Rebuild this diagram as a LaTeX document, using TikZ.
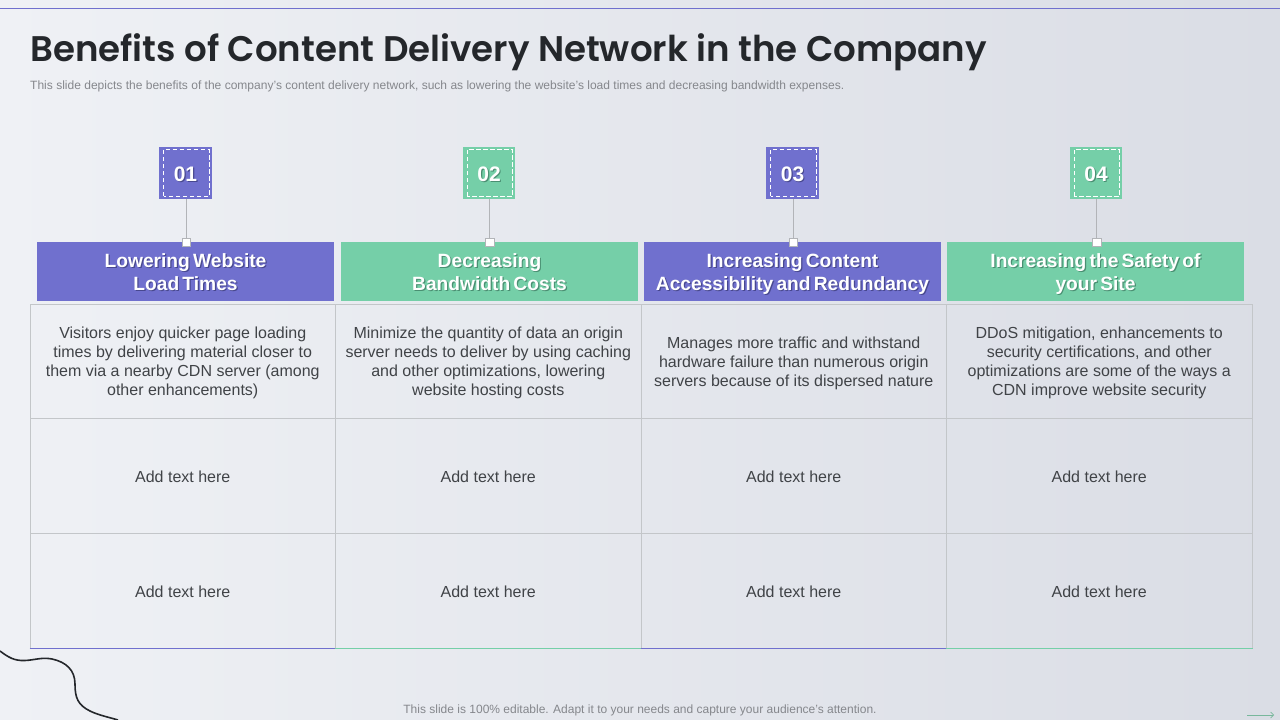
\documentclass[tikz,border=0pt]{standalone}
\usepackage{fontspec}
\usetikzlibrary{arrows.meta}
\setmainfont{Liberation Sans}[BoldFeatures={WordSpace=0.6}]
\newfontfamily\titlefont{Poppins SemiBold}
\definecolor{bgL}{HTML}{EFF1F5}
\definecolor{bgR}{HTML}{DADDE5}
\definecolor{pur}{HTML}{7070CE}
\definecolor{grn}{HTML}{75CFA8}
\definecolor{purS}{HTML}{48488F}
\definecolor{grnS}{HTML}{4A8F72}
\definecolor{gridc}{HTML}{C3C6C9}
\definecolor{inkc}{HTML}{404347}
\definecolor{titlec}{HTML}{24272B}
\definecolor{subc}{HTML}{85878C}
\definecolor{stemc}{HTML}{B2B4B8}
\newcommand{\shtxt}[2]{\leavevmode\rlap{\raisebox{-1.3pt}{\kern1.2pt\textcolor{#1}{#2}}}#2}
\newcommand{\Tc}{\rule{0pt}{17.4pt}}
\newcommand{\Bc}{\rule[-6pt]{0pt}{0pt}}
\newcommand{\Th}{\rule{0pt}{20pt}}
\newcommand{\Bh}{\rule[-6pt]{0pt}{0pt}}
\tikzset{
  x=1pt,y=-1pt,
  pads/.style 2 args={execute at begin node={\rule{0pt}{#1pt}},execute at end node={\rule[-#2pt]{0pt}{0pt}}},
  numbox/.style={minimum size=52.5pt,inner sep=0pt,fill=#1,font=\bfseries\fontsize{21}{24}\selectfont,text=white,pads={18}{2}},
  inner/.style={draw=white,dashed,dash pattern=on 4.5pt off 2.5pt,line width=.7pt},
  head/.style={minimum width=297pt,minimum height=59pt,inner sep=0pt,fill=#1,font=\bfseries\fontsize{19.2}{23}\selectfont,text=white,align=center},
  cell/.style={minimum width=305.5pt,minimum height=114.8pt,inner sep=0pt,draw=gridc,line width=1pt,font=\fontsize{16}{19}\selectfont,text=inkc,align=center},
  addcell/.style={cell,pads={19}{6}},
  stem/.style={draw=stemc,line width=.9pt},
  tick/.style={minimum size=8.5pt,inner sep=0pt,fill=white,draw=stemc,line width=.4pt},
}
\begin{document}
\begin{tikzpicture}
\useasboundingbox (0,0) rectangle (1280,720);
\shade[left color=bgL,right color=bgR] (0,0) rectangle (1280,720);
\draw[pur,line width=.8pt] (0,8.8) -- (1280,8.8);
\node[anchor=base west,inner sep=0pt,font=\titlefont\fontsize{35.6}{40}\selectfont,text=titlec] (title) at (30,61) {Benefits of Content Delivery Network in the Company};
\node[anchor=base west,inner sep=0pt,font=\fontsize{12.03}{14}\selectfont,text=subc] (sub) at (30,89) {This slide depicts the benefits of the company's content delivery network, such as lowering the website's load times and decreasing bandwidth expenses.};

% cells
\node[cell] (c11) at (182.75,361.5) {\Tc Visitors enjoy quicker page loading\\times by delivering material closer to\\them via a nearby CDN server (among\\other enhancements)\Bc};
\node[cell] (c12) at (488.25,361.5) {\Tc Minimize the quantity of data an origin\\server needs to deliver by using caching\\and other optimizations, lowering\\website hosting costs\Bc};
\node[cell] (c13) at (793.75,361.5) {\Tc Manages more traffic and withstand\\hardware failure than numerous origin\\servers because of its dispersed nature\Bc};
\node[cell] (c14) at (1099.25,361.5) {\Tc DDoS mitigation, enhancements to\\security certifications, and other\\optimizations are some of the ways a\\CDN improve website security\Bc};
\node[addcell] (c21) at (182.75,476.2) {Add text here};
\node[addcell] (c22) at (488.25,476.2) {Add text here};
\node[addcell] (c23) at (793.75,476.2) {Add text here};
\node[addcell] (c24) at (1099.25,476.2) {Add text here};
\node[addcell] (c31) at (182.75,591) {Add text here};
\node[addcell] (c32) at (488.25,591) {Add text here};
\node[addcell] (c33) at (793.75,591) {Add text here};
\node[addcell] (c34) at (1099.25,591) {Add text here};
\draw[pur,line width=1pt] (c31.south west) -- (c31.south east);
\draw[grn,line width=1pt] (c32.south west) -- (c32.south east);
\draw[pur,line width=1pt] (c33.south west) -- (c33.south east);
\draw[grn,line width=1pt] (c34.south west) -- (c34.south east);

% headers
\node[head=pur] (h1) at (185.5,271.5) {\Th\shtxt{purS}{Lowering Website}\\\shtxt{purS}{Load Times}\Bh};
\node[head=grn] (h2) at (489.5,271.5) {\Th\shtxt{grnS}{Decreasing}\\\shtxt{grnS}{Bandwidth Costs}\Bh};
\node[head=pur] (h3) at (792.5,271.5) {\Th\shtxt{purS}{Increasing Content}\\\shtxt{purS}{Accessibility and Redundancy}\Bh};
\node[head=grn] (h4) at (1095.5,271.5) {\Th\shtxt{grnS}{Increasing the Safety of}\\\shtxt{grnS}{your Site}\Bh};

% numbers
\node[numbox=pur] (n1) at (185.5,173) {\shtxt{purS}{01}};
\node[numbox=grn] (n2) at (489,173) {\shtxt{grnS}{02}};
\node[numbox=pur] (n3) at (792.5,173) {\shtxt{purS}{03}};
\node[numbox=grn] (n4) at (1096,173) {\shtxt{grnS}{04}};
\foreach \n in {n1,n2,n3,n4}{
  \draw[inner] ([shift={(4.5,-3)}]\n.south west) rectangle ([shift={(-3,3)}]\n.north east);
}
% stems
\foreach \i/\xx in {1/186,2/489.5,3/793,4/1096.5}{
  \coordinate (s\i) at (\xx,242);
  \draw[stem] (n\i.south -| s\i) -- (s\i);
  \node[tick] (t\i) at (s\i) {};
}

% decoration
\draw[titlec,line width=1.6pt] (0,651) .. controls (8,657) and (14,661) .. (25,660.5)
  .. controls (35,660) and (42,657) .. (52,659)
  .. controls (66,662) and (75,670) .. (75,684)
  .. controls (75,698) and (78,705) .. (90,711)
  .. controls (98,715) and (108,717) .. (118,720);
\node[anchor=base,inner sep=0pt,font=\fontsize{12}{14}\selectfont,text=subc] (foot) at (640,713) {This slide is 100\% editable. Adapt it to your needs and capture your audience's attention.};
\draw[grn!70!gray,line width=.7pt,-{Straight Barb[length=3pt]}] (1247,715) -- (1274,715);
\end{tikzpicture}
\end{document}
